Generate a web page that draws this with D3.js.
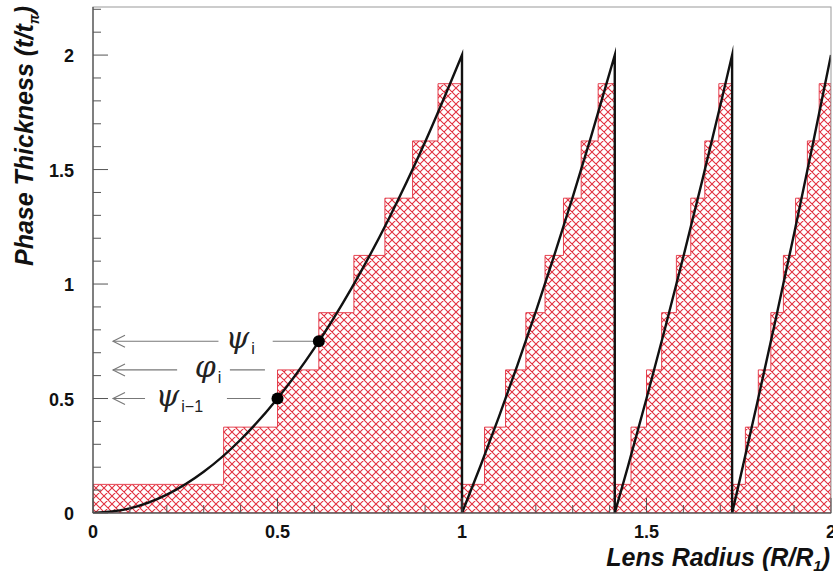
<!DOCTYPE html>
<html lang="en">
<head>
<meta charset="utf-8">
<title>Phase Thickness</title>
<script src="https://cdn.jsdelivr.net/npm/d3@7"></script>
<style>
  body { margin: 0; background: #fff; }
  svg { display: block; }
  .tick-label { font-family: "Liberation Sans", Arial, sans-serif; font-weight: bold; font-size: 18px; fill: #111; }
  .axis-title { font-family: "Liberation Sans", Arial, sans-serif; font-weight: bold; font-style: italic; font-size: 25px; fill: #111; }
  .greek { font-family: "DejaVu Serif", serif; font-style: italic; font-size: 30px; fill: #222; }
  .sub { font-family: "Liberation Sans", Arial, sans-serif; font-size: 16px; font-style: normal; }
</style>
</head>
<body>
<div id="chart"></div>
<script>
var width = 833, height = 579;
var margin = {left: 93, top: 7, right: 2, bottom: 66};

// staircase levels (same 8 levels in every zone)
var stepLevels = [0.125, 0.375, 0.625, 0.875, 1.125, 1.375, 1.625, 1.875];

// step edges of each Fresnel zone
var zone1Edges = [0, 0.354, 0.5, 0.612, 0.707, 0.791, 0.866, 0.935, 1.0];
var zone2Edges = [1.0, 1.061, 1.118, 1.173, 1.225, 1.275, 1.323, 1.369, 1.414];
var zone3Edges = [1.414, 1.458, 1.5, 1.541, 1.581, 1.62, 1.658, 1.696, 1.732];
var zone4Edges = [1.732, 1.768, 1.803, 1.837, 1.871, 1.904, 1.936, 1.968, 2.0];

// continuous phase curve, one list per zone
var zone1R = [0, 0.1, 0.2, 0.3, 0.4, 0.5, 0.6, 0.7, 0.8, 0.9, 1.0];
var zone1T = [0, 0.02, 0.08, 0.18, 0.32, 0.5, 0.72, 0.98, 1.28, 1.62, 2.0];
var zone2R = [1.0, 1.05, 1.1, 1.15, 1.2, 1.25, 1.3, 1.35, 1.414];
var zone2T = [0, 0.205, 0.42, 0.645, 0.88, 1.125, 1.38, 1.645, 2.0];
var zone3R = [1.414, 1.45, 1.5, 1.55, 1.6, 1.65, 1.7, 1.732];
var zone3T = [0, 0.205, 0.5, 0.805, 1.12, 1.445, 1.78, 2.0];
var zone4R = [1.732, 1.75, 1.8, 1.85, 1.9, 1.95, 2.0];
var zone4T = [0, 0.125, 0.48, 0.845, 1.22, 1.605, 2.0];

// marked points on the curve
var markR = [0.5, 0.612];
var markT = [0.5, 0.75];

// annotation arrows
var annT = [0.75, 0.625, 0.5];
var annName = ["\u03C8", "\u03C6", "\u03C8"];
var annSub = ["i", "i", "i\u22121"];

var xTicksMajor = [0, 0.5, 1, 1.5, 2];
var yTicksMajor = [0, 0.5, 1, 1.5, 2];

var svg = d3.select("#chart").append("svg")
    .attr("width", width)
    .attr("height", height);

var x = d3.scaleLinear().domain([0, 2]).range([margin.left, width - margin.right]);
var y = d3.scaleLinear().domain([0, 2.21]).range([height - margin.bottom, margin.top]);

var hatchColor = "#e2303f";
var defs = svg.append("defs");
var pat = defs.append("pattern")
    .attr("id", "hatch")
    .attr("patternUnits", "userSpaceOnUse")
    .attr("width", 8).attr("height", 8);
pat.append("path")
    .attr("d", "M-2,2 L2,-2 M0,8 L8,0 M6,10 L10,6 M-2,6 L2,10 M0,0 L8,8 M6,-2 L10,2")
    .attr("stroke", hatchColor)
    .attr("stroke-width", 1.1);

defs.append("clipPath").attr("id", "frame")
  .append("rect")
    .attr("x", x(0)).attr("y", y(2.21))
    .attr("width", x(2) - x(0)).attr("height", y(0) - y(2.21));

var plot = svg.append("g").attr("clip-path", "url(#frame)");

// hatched staircase
var area = d3.area()
    .x(function(d) { return x(d[0]); })
    .y0(y(0))
    .y1(function(d) { return y(d[1]); })
    .curve(d3.curveStepAfter);

[zone1Edges, zone2Edges, zone3Edges, zone4Edges].forEach(function(edges) {
  var pts = stepLevels.map(function(l, i) { return [edges[i], l]; });
  pts.push([edges[edges.length - 1], stepLevels[stepLevels.length - 1]]);
  plot.append("path")
      .attr("d", area(pts))
      .attr("fill", "url(#hatch)")
      .attr("stroke", hatchColor)
      .attr("stroke-width", 0.9);
});

// phase curve with the drops at the zone edges
var line = d3.line()
    .x(function(d) { return x(d[0]); })
    .y(function(d) { return y(d[1]); })
    .curve(d3.curveMonotoneX);

[[zone1R, zone1T], [zone2R, zone2T], [zone3R, zone3T], [zone4R, zone4T]].forEach(function(z) {
  var pts = z[0].map(function(r, i) { return [r, z[1][i]]; });
  var last = pts[pts.length - 1];
  var d = line(pts);
  if (last[0] < 2) d += "L" + x(last[0]) + "," + y(0);
  plot.append("path")
      .attr("d", d)
      .attr("fill", "none")
      .attr("stroke", "#111")
      .attr("stroke-width", 2.4)
      .attr("stroke-linejoin", "miter")
      .attr("stroke-miterlimit", 20);
});

// frame
svg.append("rect")
    .attr("x", x(0)).attr("y", y(2.21))
    .attr("width", x(2) - x(0)).attr("height", y(0) - y(2.21))
    .attr("fill", "none")
    .attr("stroke", "#999")
    .attr("stroke-width", 1);

// axes: ticks drawn inward
var axes = svg.append("g").attr("stroke", "#555").attr("stroke-width", 1);
axes.append("line").attr("x1", x(0)).attr("x2", x(2)).attr("y1", y(0)).attr("y2", y(0)).attr("stroke", "#333");
axes.append("line").attr("x1", x(0)).attr("x2", x(0)).attr("y1", y(0)).attr("y2", y(2.21)).attr("stroke", "#333");

d3.range(0, 21).forEach(function(i) {
  var v = i / 10, len = (i % 5 === 0) ? 15 : 8;
  axes.append("line")
      .attr("x1", x(v)).attr("x2", x(v))
      .attr("y1", y(0)).attr("y2", y(0) - len);
});
d3.range(0, 23).forEach(function(i) {
  var v = i / 10, len = (i % 5 === 0) ? 15 : 8;
  axes.append("line")
      .attr("x1", x(0)).attr("x2", x(0) + len)
      .attr("y1", y(v)).attr("y2", y(v));
});

svg.selectAll(".xlab").data(xTicksMajor).enter().append("text")
    .attr("class", "tick-label")
    .attr("x", function(d) { return x(d); })
    .attr("y", y(0) + 25)
    .attr("text-anchor", "middle")
    .text(function(d) { return d; });

svg.selectAll(".ylab").data(yTicksMajor).enter().append("text")
    .attr("class", "tick-label")
    .attr("x", x(0) - 19)
    .attr("y", function(d) { return y(d) + 7; })
    .attr("text-anchor", "end")
    .text(function(d) { return d; });

// axis titles
var xt = svg.append("text")
    .attr("class", "axis-title")
    .attr("x", 830)
    .attr("y", 566)
    .attr("text-anchor", "end");
xt.append("tspan").text("Lens Radius (R/R");
xt.append("tspan").attr("font-size", 15).attr("dy", 5).text("1");
xt.append("tspan").attr("dy", -5).text(")");

var yt = svg.append("text")
    .attr("class", "axis-title")
    .attr("transform", "translate(33,6) rotate(-90)")
    .attr("text-anchor", "end");
yt.append("tspan").text("Phase Thickness (t/t");
yt.append("tspan").attr("font-size", 14).attr("dy", 6).text("\u03C0");
yt.append("tspan").attr("dy", -6).text(")");

// annotation arrows and labels
var annLayout = [
  {left: 0.34, label: 0.36, right: 0.487, end: 0.612},
  {left: 0.228, label: 0.276, right: 0.371, end: 0.466},
  {left: 0.141, label: 0.17, right: 0.363, end: 0.454}
];
var ann = svg.append("g");
annT.forEach(function(t, i) {
  var L = annLayout[i], yy = y(t), tip = x(0) + 20;
  ann.append("line")
      .attr("x1", tip).attr("x2", x(L.left))
      .attr("y1", yy).attr("y2", yy)
      .attr("stroke", "#777").attr("stroke-width", 1.1);
  ann.append("path")
      .attr("d", "M" + (tip + 12) + "," + (yy - 6) + "L" + tip + "," + yy + "L" + (tip + 12) + "," + (yy + 6))
      .attr("fill", "none").attr("stroke", "#777").attr("stroke-width", 1.1);
  ann.append("line")
      .attr("x1", x(L.right)).attr("x2", x(L.end))
      .attr("y1", yy).attr("y2", yy)
      .attr("stroke", "#777").attr("stroke-width", 1.1);
  var tx = ann.append("text")
      .attr("class", "greek")
      .attr("x", x(L.label))
      .attr("y", yy + 7);
  tx.append("tspan").text(annName[i]);
  tx.append("tspan").attr("class", "sub").attr("dx", 2).attr("dy", 6).text(annSub[i]);
});

svg.selectAll(".mark").data(markR).enter().append("circle")
    .attr("cx", function(d) { return x(d); })
    .attr("cy", function(d, i) { return y(markT[i]); })
    .attr("r", 6)
    .attr("fill", "#000");
</script>
</body>
</html>
